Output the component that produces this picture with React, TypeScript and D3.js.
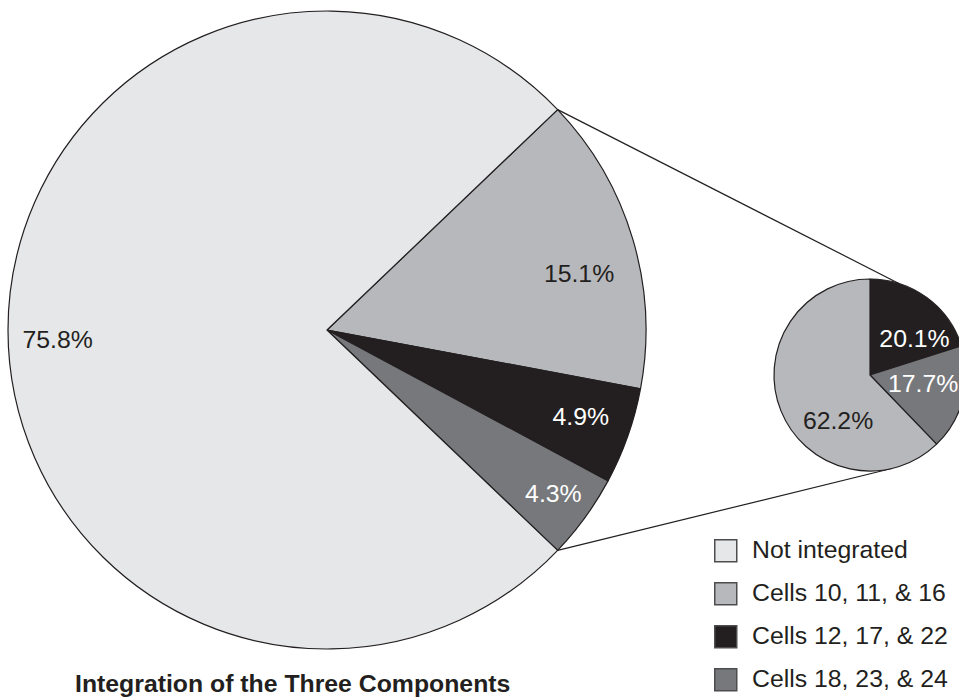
import React from "react";
import * as d3 from "d3";

// Share of cells by integration of the three components
const mainCategories = ["Cells 10, 11, & 16", "Cells 12, 17, & 22", "Cells 18, 23, & 24", "Not integrated"];
const mainValues = [15.1, 4.9, 4.3, 75.8];

// Breakdown of the integrated share
const detailCategories = ["Cells 12, 17, & 22", "Cells 18, 23, & 24", "Cells 10, 11, & 16"];
const detailValues = [20.1, 17.7, 62.2];

const legendLabels = ["Not integrated", "Cells 10, 11, & 16", "Cells 12, 17, & 22", "Cells 18, 23, & 24"];
const title = "Integration of the Three Components";

const W = 959;
const H = 698;
const INK = "#231f20";
const FONT = "'Liberation Sans', Arial, Helvetica, sans-serif";
const FS = 24.8;

const color = d3
  .scaleOrdinal<string, string>()
  .domain(legendLabels)
  .range(["#e6e7e8", "#b7b8bb", "#231f20", "#77787b"]);
const labelColor = (cat: string) =>
  cat === "Cells 12, 17, & 22" || cat === "Cells 18, 23, & 24" ? "#ffffff" : INK;

// geometry
const main = { cx: 327, cy: 330, r: 319 };
const detail = { cx: 870, cy: 375, r: 96 };
// label placement as [angle in degrees clockwise from top, fraction of radius]
const mainLabelPolar: [number, number][] = [[77.3, 0.81], [108.7, 0.84], [125.8, 0.875], [268, 0.845]];
const detailLabelPolar: [number, number][] = [[50.6, 0.6], [99, 0.56], [215, 0.58]];
// where the connector lines meet the detail pie
const connectorEndAngles = [17.5, 167];

const rad = (deg: number) => (deg * Math.PI) / 180;
const polar = (c: { cx: number; cy: number; r: number }, angle: number, frac = 1) => [
  c.cx + c.r * frac * Math.sin(angle),
  c.cy - c.r * frac * Math.cos(angle),
];

export default function App() {
  const mainTotal = d3.sum(mainValues);
  const integratedSpan = (d3.sum(mainValues.slice(0, 3)) / mainTotal) * 2 * Math.PI;
  const mainStart = Math.PI / 2 - integratedSpan / 2;

  const mainArcs = d3
    .pie<number>()
    .sort(null)
    .startAngle(mainStart)
    .endAngle(mainStart + 2 * Math.PI)(mainValues);
  const detailArcs = d3.pie<number>().sort(null)(detailValues);

  const mainArc = d3.arc<d3.PieArcDatum<number>>().innerRadius(0).outerRadius(main.r);
  const detailArc = d3.arc<d3.PieArcDatum<number>>().innerRadius(0).outerRadius(detail.r);

  const groupStart = mainStart;
  const groupEnd = mainStart + integratedSpan;
  const connectors = [
    [polar(main, groupStart), polar(detail, rad(connectorEndAngles[0]))],
    [polar(main, groupEnd), polar(detail, rad(connectorEndAngles[1]))],
  ];

  const legendY = d3.scalePoint<string>().domain(legendLabels).range([539, 668]);

  return (
    <svg
      width={W}
      height={H}
      viewBox={`0 0 ${W} ${H}`}
      style={{ position: "absolute", left: 0, top: 0, background: "#fff" }}
      fontFamily={FONT}
    >
      <rect width={W} height={H} fill="#fff" />
      <g transform={`translate(${main.cx},${main.cy})`}>
        {mainArcs.map((a, i) => (
          <path
            key={i}
            d={mainArc(a) || ""}
            fill={color(mainCategories[i])}
            stroke={INK}
            strokeWidth={1.2}
            strokeLinejoin="round"
          />
        ))}
      </g>
      {connectors.map((c, i) => (
        <line
          key={i}
          x1={c[0][0]}
          y1={c[0][1]}
          x2={c[1][0]}
          y2={c[1][1]}
          stroke={INK}
          strokeWidth={1.2}
        />
      ))}
      <g transform={`translate(${detail.cx},${detail.cy})`}>
        {detailArcs.map((a, i) => (
          <path
            key={i}
            d={detailArc(a) || ""}
            fill={color(detailCategories[i])}
            stroke={INK}
            strokeWidth={1.2}
            strokeLinejoin="round"
          />
        ))}
      </g>
      {mainValues.map((v, i) => {
        const [ang, frac] = mainLabelPolar[i];
        const [x, y] = polar(main, rad(ang), frac);
        return (
          <text
            key={i}
            x={x}
            y={y + 8.8}
            textAnchor="middle"
            fontSize={FS}
            fill={labelColor(mainCategories[i])}
          >
            {v.toFixed(1)}%
          </text>
        );
      })}
      {detailValues.map((v, i) => {
        const [ang, frac] = detailLabelPolar[i];
        const [x, y] = polar(detail, rad(ang), frac);
        return (
          <text
            key={i}
            x={x}
            y={y + 8.8}
            textAnchor="middle"
            fontSize={FS}
            fill={labelColor(detailCategories[i])}
          >
            {v.toFixed(1)}%
          </text>
        );
      })}
      <g>
        {legendLabels.map((l) => (
          <g key={l} transform={`translate(714,${legendY(l)})`}>
            <rect x={0.75} y={0.75} width={22} height={22} fill={color(l)} stroke="#4d4d4f" strokeWidth={1.5} />
            <text x={38} y={19} fontSize={FS} fill={INK}>
              {l}
            </text>
          </g>
        ))}
      </g>
      <text x={75} y={692} fontSize={FS} fontWeight="bold" fill={INK}>
        {title}
      </text>
    </svg>
  );
}
